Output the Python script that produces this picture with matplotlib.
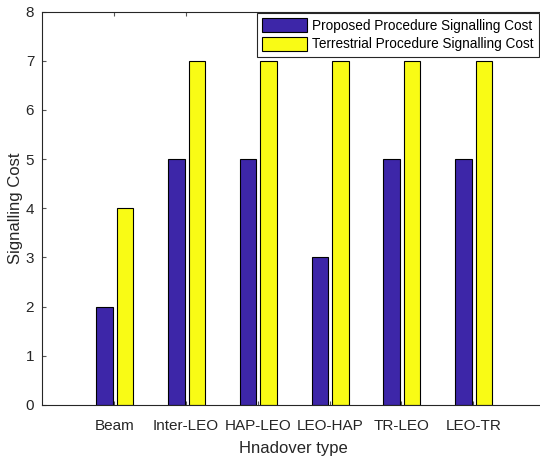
import matplotlib.pyplot as plt
import numpy as np

# --- Data ---
handover_types = ['Beam', 'Inter-LEO', 'HAP-LEO', 'LEO-HAP', 'TR-LEO', 'LEO-TR']
proposed_cost = [2, 5, 5, 3, 5, 5]
terrestrial_cost = [4, 7, 7, 7, 7, 7]

plt.rcParams.update({
    'font.family': 'Liberation Sans',
    'font.size': 10
})

fig = plt.figure(figsize=(5.4, 4.57), dpi=100)
ax = fig.add_axes([0.0787, 0.1138, 0.9306, 0.861])

x = np.arange(1, len(handover_types) + 1)
bar_w = 0.23

ax.bar(x - 0.135, proposed_cost, width=bar_w, color='#3D26A8',
       edgecolor='black', linewidth=0.8, label='Proposed Procedure Signalling Cost', zorder=2)
ax.bar(x + 0.15, terrestrial_cost, width=bar_w, color='#F9FB15',
       edgecolor='black', linewidth=0.8, label='Terrestrial Procedure Signalling Cost', zorder=2)

ax.set_xlim(0, 7)
ax.set_ylim(0, 8)
ax.set_xticks(x)
ax.set_xticklabels(handover_types)
ax.set_yticks(range(0, 9))

ax.tick_params(direction='in', length=3, width=0.8, color='#555555',
               top=True, right=False, labelsize=11, colors='#262626')
ax.tick_params(axis='x', pad=10)
ax.tick_params(axis='y', pad=6)
ax.spines['right'].set_visible(False)
for s in ['left', 'bottom', 'top']:
    ax.spines[s].set_color('#262626')
    ax.spines[s].set_linewidth(0.8)

ax.set_xlabel('Hnadover type', fontsize=12, color='#262626', labelpad=6)
ax.set_ylabel('Signalling Cost', fontsize=12, color='#262626', labelpad=2)

leg = ax.legend(loc='upper left', bbox_to_anchor=(257 / 540, 1 - 12.5 / 457),
                bbox_transform=fig.transFigure, borderaxespad=0,
                fancybox=False, framealpha=1, edgecolor='#262626',
                handlelength=3.3, handleheight=1.2, handletextpad=0.35,
                labelspacing=0.3, borderpad=0.4, fontsize=9.8)
leg.get_frame().set_linewidth(0.8)

plt.savefig('out.png', dpi=100)
